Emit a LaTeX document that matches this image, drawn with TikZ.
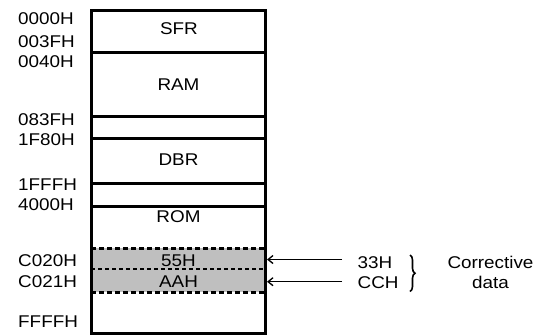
\documentclass[tikz,border=0pt]{standalone}
\usepackage{fontspec}
\setmainfont{Liberation Sans}[FakeStretch=1.11]
\usetikzlibrary{decorations.pathreplacing,arrows.meta}
\begin{document}
\begin{tikzpicture}[x=1pt,y=-1pt,
  lbl/.style={font=\fontsize{17}{17}\selectfont, inner sep=0pt, anchor=base west},
  ctr/.style={font=\fontsize{17}{17}\selectfont, inner sep=0pt, anchor=base},
  wall/.style={line width=3pt},
  dline/.style={line width=3pt, dash pattern=on 5pt off 3pt},
  thindash/.style={line width=1.3pt, dash pattern=on 4pt off 3pt},
  arr/.style={line width=1.3pt, -{Straight Barb[length=5pt,width=8pt]}}]
\useasboundingbox (0,0) rectangle (537,335);
% shaded cells
\fill[gray!50] (92,248) rectangle (264,292);
% box outline
\draw[wall] (91,10) rectangle (265,333);
\draw[wall] (91,52) -- (265,52);
\draw[wall] (91,116) -- (265,116);
\draw[wall] (91,138.5) -- (265,138.5);
\draw[wall] (91,183) -- (265,183);
\draw[wall] (91,206) -- (265,206);
\draw[dline] (91,248) -- (265,248);
\draw[thindash] (91,269) -- (265,269);
\draw[dline] (91,292) -- (265,292);
% cell texts
\node[ctr] (sfr) at (179,34.3) {SFR};
\node[ctr] (ram) at (178.5,90) {RAM};
\node[ctr] (dbr) at (178.5,165.7) {DBR};
\node[ctr] (rom) at (178.5,222) {ROM};
\node[ctr] (c55) at (178.5,266.7) {55H};
\node[ctr] (caa) at (178.5,287.7) {AAH};
% addresses
\node[lbl] (a0) at (18,24.3) {0000H};
\node[lbl] (a1) at (18,47.7) {003FH};
\node[lbl] (a2) at (18,67.7) {0040H};
\node[lbl] (a3) at (18,125) {083FH};
\node[lbl] (a4) at (18,145) {1F80H};
\node[lbl] (a5) at (18,190) {1FFFH};
\node[lbl] (a6) at (18,210) {4000H};
\node[lbl] (a7) at (18,266.7) {C020H};
\node[lbl] (a8) at (18,287) {C021H};
\node[lbl] (a9) at (18,327) {FFFFH};
% corrective data
\node[lbl] (d33) at (357.5,268.5) {33H};
\node[lbl] (dcc) at (357.5,288.3) {CCH};
\coordinate (t1) at (267,259.5);
\coordinate (t2) at (267,281.7);
\coordinate (s1) at (342,259.5);
\coordinate (s2) at (342,281.7);
\draw[arr] (s1) -- (t1);
\draw[arr] (s2) -- (t2);
\coordinate (b1) at (410,255);
\coordinate (b2) at (410,291.5);
\draw[line width=1.6pt, decorate, decoration={brace, amplitude=5pt, aspect=0.5}] (b1) -- (b2);
\node[ctr] (cd1) at (490.5,268) {Corrective};
\node[ctr] (cd2) at (490.5,288) {data};
\end{tikzpicture}
\end{document}
